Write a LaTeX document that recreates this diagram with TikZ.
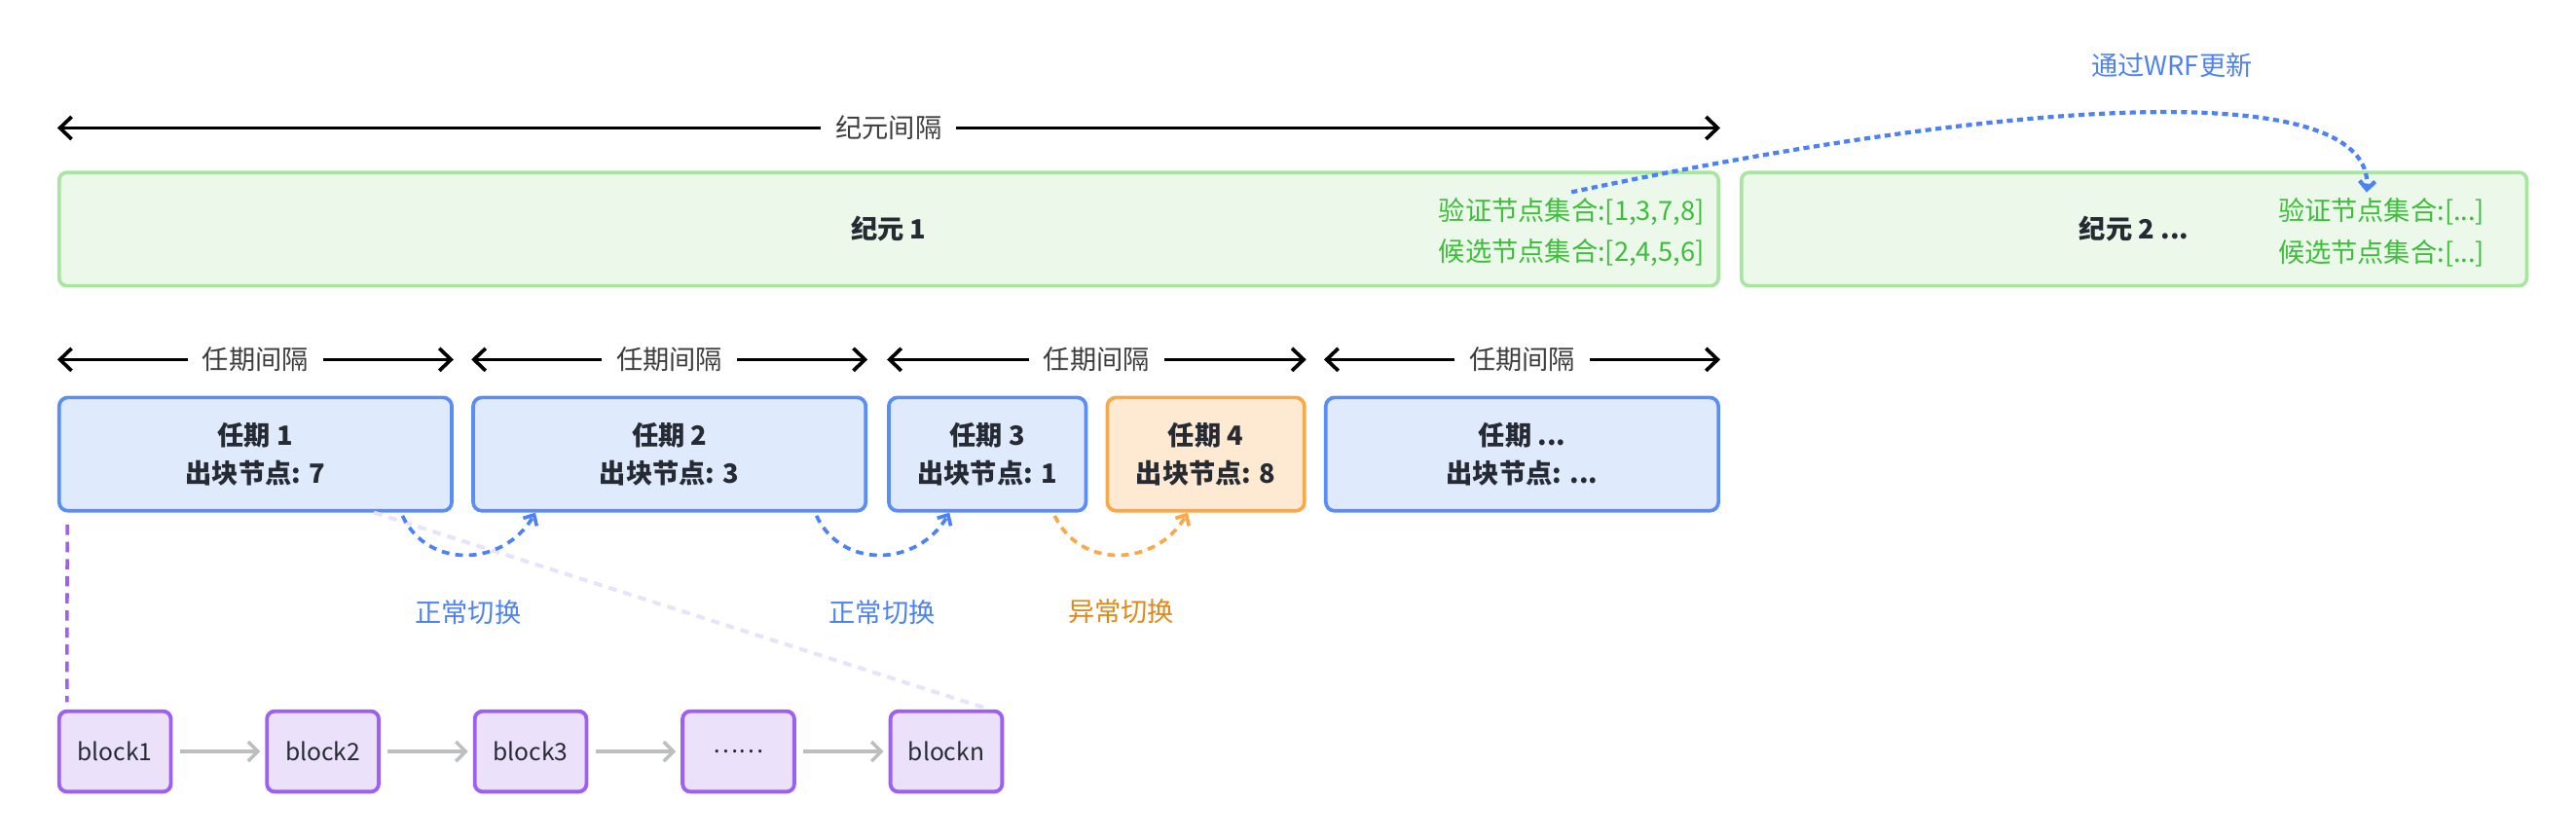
\documentclass[tikz,border=0pt]{standalone}
\usepackage{fontspec}
\setmainfont{Noto Sans CJK SC}
\usepackage{tikz}
\usetikzlibrary{arrows.meta}

\definecolor{epochfill}{HTML}{EBF8EA}
\definecolor{epochline}{HTML}{A8E5A1}
\definecolor{termfill}{HTML}{E0EAFD}
\definecolor{termline}{HTML}{5B8DF7}
\definecolor{faultfill}{HTML}{FEEAD2}
\definecolor{faultline}{HTML}{FAA84A}
\definecolor{faulttext}{HTML}{E0891A}
\definecolor{blockfill}{HTML}{EBE1FB}
\definecolor{blockline}{HTML}{9D60F2}
\definecolor{wrfblue}{HTML}{4C82F6}
\definecolor{chaingray}{HTML}{BDBEC0}
\definecolor{faintpurple}{HTML}{E9E2FB}
\definecolor{setgreen}{HTML}{3DBE3A}
\definecolor{inktext}{HTML}{262B33}
\definecolor{labeltext}{HTML}{3C3C3C}

\newcommand{\pxlen}{0.03375cm}

\begin{document}
\begin{tikzpicture}[x=\pxlen, y=-\pxlen,
    epochbox/.style={draw=epochline, fill=epochfill, line width=2.1pt,
        rounded corners=0.16cm, minimum width=#1*\pxlen, minimum height=69*\pxlen,
        font=\bfseries\fontsize{15.5pt}{18pt}\selectfont, text=inktext},
    termbox/.style={draw=termline, fill=termfill, line width=2.1pt,
        rounded corners=0.18cm, minimum width=#1*\pxlen, minimum height=69*\pxlen,
        align=center, font=\bfseries\fontsize{15.5pt}{22pt}\selectfont, text=inktext},
    faultbox/.style={termbox=#1, draw=faultline, fill=faultfill},
    blockbox/.style={draw=blockline, fill=blockfill, line width=2.2pt,
        rounded corners=0.16cm, minimum width=68*\pxlen, minimum height=49*\pxlen,
        font=\fontsize{14pt}{16pt}\selectfont, text=inktext},
    setlist/.style={align=#1, text=setgreen, font=\fontsize{15.5pt}{24pt}\selectfont},
    spanline/.style={{Straight Barb[length=0.24cm,width=0.46cm]}-{Straight Barb[length=0.24cm,width=0.46cm]},
        line width=2.1pt, black},
    spanlabel/.style={fill=white, inner xsep=0.3cm, text=labeltext,
        font=\fontsize{15.5pt}{18pt}\selectfont},
    hop/.style={out=-65, in=-120, looseness=1.2},
    hopline/.style={-{Straight Barb[length=0.17cm,width=0.32cm]}, line width=2.1pt,
        dash pattern=on 4.5pt off 3.5pt, shorten <=2pt},
    switchlabel/.style={font=\fontsize{15.5pt}{18pt}\selectfont},
    chainarrow/.style={-{Straight Barb[length=0.2cm,width=0.4cm]}, chaingray, line width=2pt,
        shorten <=0.15cm, shorten >=0.1cm}]

            \useasboundingbox (0,0) rectangle (1568,511);

% ---- Epochs ----
            \node[epochbox=1010] (e1) at (541,139.5) {纪元 1};
            \node[epochbox=478] (e2) at (1299,139.5) {纪元 2 ...};
            \node[setlist=right, anchor=east] (e1set) at (1041,141.5) {验证节点集合:[1,3,7,8]\\候选节点集合:[2,4,5,6]};
            \node[setlist=left, anchor=west] (e2set) at (1383,141.5) {验证节点集合:[...]\\候选节点集合:[...]};

            \draw[spanline] ([yshift=26*\pxlen]e1.north west) -- ([yshift=26*\pxlen]e1.north east)
                node[midway, spanlabel] (epochgap) {纪元间隔};

% ---- Validator set update via WRF ----
            \draw[wrfblue, line width=2.4pt, dash pattern=on 3.5pt off 2.5pt,
                -{Straight Barb[length=0.17cm,width=0.32cm]}]
                (e1set.north) .. controls (1250,55) and (1445,50) .. ([xshift=-9*\pxlen]e2set.north);
            \node[switchlabel, text=wrfblue] (wrfnote) at (1322,40) {通过WRF更新};

% ---- Terms ----
            \node[termbox=239] (t1) at (155.5,276.5) {任期 1\\出块节点: 7};
            \node[termbox=239] (t2) at (407.5,276.5) {任期 2\\出块节点: 3};
            \node[termbox=120] (t3) at (601,276.5) {任期 3\\出块节点: 1};
            \node[faultbox=120] (t4) at (734,276.5) {任期 4\\出块节点: 8};
            \node[termbox=239] (t5) at (926.5,276.5) {任期 ...\\出块节点: ...};

% ---- Term intervals ----
            \foreach \a/\b in {t1/t1,t2/t2,t3/t4,t5/t5} {
                \draw[spanline] ([yshift=22*\pxlen]\a.north west) -- ([yshift=22*\pxlen]\b.north east)
                    node[midway, spanlabel] (gap\a) {任期间隔};
            }

% ---- Blocks ----
            \foreach \i/\lab in {1/block1,2/block2,3/block3,4/……,5/blockn} {
                \node[blockbox] (b\i) at ({70+126.5*(\i-1)},457.5) {\lab};
            }
            \foreach \i/\j in {1/2,2/3,3/4,4/5} {
                \draw[chainarrow] (b\i) -- (b\j);
            }

% ---- Term 1 -> blocks ----
            \draw[faintpurple, line width=2.3pt, dash pattern=on 5pt off 4pt]
                ([xshift=-48.5*\pxlen]t1.south east) -- ([xshift=-9*\pxlen]b5.north east);
            \draw[blockline, line width=2pt, dash pattern=on 6pt off 4pt, shorten <=0.25cm, shorten >=0.15cm]
                ([xshift=6*\pxlen]t1.south west) -- ([xshift=6*\pxlen]b1.north west);

% ---- Leader switches ----
            \draw[hopline, wrfblue] ([xshift=-32*\pxlen]t1.south east) to[hop] ([xshift=39*\pxlen]t2.south west);
            \draw[hopline, wrfblue] ([xshift=-32*\pxlen]t2.south east) to[hop] ([xshift=38*\pxlen]t3.south west);
            \draw[hopline, faultline] ([xshift=-21*\pxlen]t3.south east) to[hop] ([xshift=50*\pxlen]t4.south west);

            \node[switchlabel, text=wrfblue] (sw1) at (285,373) {正常切换};
            \node[switchlabel, text=wrfblue] (sw2) at (537,373) {正常切换};
            \node[switchlabel, text=faulttext] (sw3) at (682.5,372) {异常切换};

\end{tikzpicture}
\end{document}
